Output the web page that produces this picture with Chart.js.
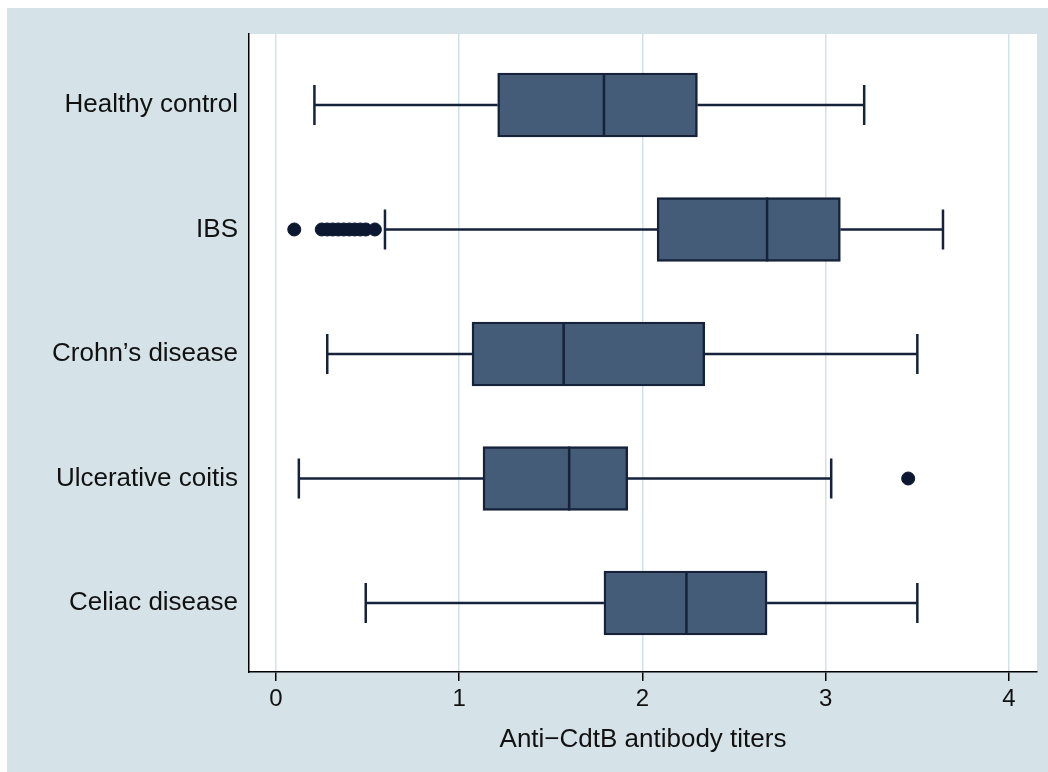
<!DOCTYPE html>
<html>
<head>
<meta charset="utf-8">
<script src="https://cdn.jsdelivr.net/npm/chart.js@4"></script>
<style>
  body { margin: 0; background: #ffffff; }
  canvas { display: block; }
</style>
</head>
<body>
<canvas id="cajas" width="1048" height="772"></canvas>
<script>
const grupos = ['Healthy control', 'IBS', "Crohn\u2019s disease", 'Ulcerative coitis', 'Celiac disease'];
const bigoteBajo = [0.21, 0.595, 0.28, 0.125, 0.49];
const q1 = [1.21, 2.08, 1.07, 1.13, 1.79];
const mediana = [1.79, 2.68, 1.57, 1.60, 2.24];
const q3 = [2.30, 3.08, 2.34, 1.92, 2.68];
const bigoteAlto = [3.21, 3.64, 3.50, 3.03, 3.50];

// valores atípicos (índice del grupo y valor)
const atipicosGrupo = [1, 1, 1, 1, 1, 1, 1, 1, 1, 1, 1, 3];
const atipicosValor = [0.10, 0.25, 0.28, 0.31, 0.34, 0.37, 0.40, 0.43, 0.46, 0.49, 0.54, 3.45];

const ticksX = [0, 1, 2, 3, 4];
const ticksY = [0, 1, 2, 3, 4];

const oscuro = '#16223a';
const fuente = 'Liberation Sans, Arial, sans-serif';

// fondo estilo Stata
const fondo = {
    id: 'fondo',
    beforeDraw(chart) {
        const c = chart.ctx;
        const a = chart.chartArea;
        c.save();
        c.fillStyle = '#ffffff';
        c.fillRect(0, 0, chart.width, chart.height);
        c.fillStyle = '#d5e3e8';
        c.fillRect(7, 8, chart.width - 7, chart.height - 8);
        c.fillStyle = '#ffffff';
        c.fillRect(a.left, a.top, a.right - a.left, a.bottom - a.top);
        c.restore();
    }
};

// bigotes, topes y mediana
const bigotes = {
    id: 'bigotes',
    afterDatasetsDraw(chart) {
        const c = chart.ctx;
        const x = chart.scales.x;
        const y = chart.scales.y;
        c.save();
        c.strokeStyle = oscuro;
        c.lineWidth = 2.5;
        grupos.forEach((g, i) => {
            const py = y.getPixelForValue(i);
            const xb = x.getPixelForValue(bigoteBajo[i]);
            const xa = x.getPixelForValue(bigoteAlto[i]);
            c.beginPath();
            c.moveTo(xb, py);
            c.lineTo(x.getPixelForValue(q1[i]), py);
            c.moveTo(x.getPixelForValue(q3[i]), py);
            c.lineTo(xa, py);
            c.moveTo(xb, py - 20);
            c.lineTo(xb, py + 20);
            c.moveTo(xa, py - 20);
            c.lineTo(xa, py + 20);
            c.stroke();
            const xm = x.getPixelForValue(mediana[i]);
            c.beginPath();
            c.moveTo(xm, py - 32);
            c.lineTo(xm, py + 32);
            c.stroke();
        });
        c.restore();
    }
};

const ctx = document.getElementById('cajas');

new Chart(ctx, {
    type: 'bar',
    data: {
        datasets: [
            {
                label: 'caja',
                data: grupos.map((g, i) => ({ x: [q1[i], q3[i]], y: i })),
                backgroundColor: '#445c77',
                borderColor: oscuro,
                borderWidth: 2.5,
                borderSkipped: false,
                barThickness: 64,
                grouped: false
            },
            {
                type: 'scatter',
                label: 'atipicos',
                data: atipicosValor.map((v, i) => ({ x: v, y: atipicosGrupo[i] })),
                backgroundColor: '#0c1730',
                borderColor: '#0c1730',
                pointRadius: 6.5,
                pointHoverRadius: 6.5,
                showLine: false
            }
        ]
    },
    options: {
        indexAxis: 'y',
        responsive: false,
        animation: false,
        devicePixelRatio: 1,
        layout: {
            padding: { left: 8, top: 34, right: 11, bottom: 0 }
        },
        plugins: {
            legend: { display: false },
            tooltip: { enabled: false }
        },
        scales: {
            x: {
                type: 'linear',
                min: -0.147,
                max: 4.153,
                afterBuildTicks(scale) {
                    scale.ticks = ticksX.map(v => ({ value: v }));
                },
                afterFit(scale) {
                    scale.height = 100;
                },
                grid: {
                    color: '#d3e2e8',
                    lineWidth: 1.5,
                    tickColor: '#000000',
                    tickLength: 9,
                    drawOnChartArea: true
                },
                border: { color: '#000000', width: 1.5 },
                ticks: {
                    color: '#111111',
                    padding: 4,
                    font: { family: fuente, size: 24 }
                },
                title: {
                    display: true,
                    text: 'Anti\u2212CdtB antibody titers',
                    color: '#111111',
                    padding: { top: 0, bottom: 17 },
                    font: { family: fuente, size: 26 }
                }
            },
            y: {
                type: 'linear',
                reverse: true,
                offset: false,
                min: -0.570,
                max: 4.554,
                afterBuildTicks(scale) {
                    scale.ticks = ticksY.map(v => ({ value: v }));
                },
                afterFit(scale) {
                    scale.width = 241;
                },
                grid: { display: false, drawTicks: false },
                border: { color: '#000000', width: 1.5 },
                ticks: {
                    color: '#111111',
                    padding: 11,
                    font: { family: fuente, size: 26 },
                    callback: v => grupos[v]
                }
            }
        }
    },
    plugins: [fondo, bigotes]
});
</script>
</body>
</html>
